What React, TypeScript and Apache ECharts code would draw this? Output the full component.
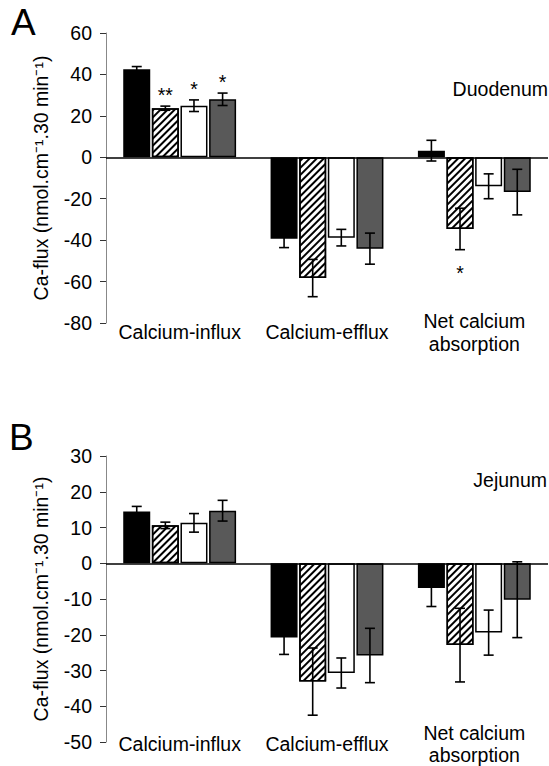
import React, { useEffect, useRef } from "react";
import * as echarts from "echarts";

// ---- data ----
const categories = ["Calcium-influx", "Calcium-efflux", "Net calcium\nabsorption"];

// Panel A: Duodenum
const duoBlack = [42.5, -39.3, 3.2];
const duoBlackErr = [1.3, 4.3, 5.0];
const duoHatched = [23.7, -58.3, -34.6];
const duoHatchedErr = [1.0, 9.0, 10.0];
const duoWhite = [24.9, -38.8, -14.0];
const duoWhiteErr = [2.8, 4.0, 6.0];
const duoGray = [28.0, -44.1, -16.8];
const duoGrayErr = [3.0, 7.5, 11.0];
const duoBlackSig = ["", "", ""];
const duoHatchedSig = ["**", "", "*"];
const duoWhiteSig = ["*", "", ""];
const duoGraySig = ["*", "", ""];

// Panel B: Jejunum
const jejBlack = [14.5, -20.8, -6.9];
const jejBlackErr = [1.4, 4.7, 5.2];
const jejHatched = [10.6, -33.1, -22.9];
const jejHatchedErr = [0.9, 9.4, 10.3];
const jejWhite = [11.3, -30.7, -19.4];
const jejWhiteErr = [2.6, 4.2, 6.3];
const jejGray = [14.7, -25.8, -10.2];
const jejGrayErr = [2.9, 7.6, 10.6];
const noSig = ["", "", ""];

// axis ticks
const duoTicks = { min: -80, max: 60, interval: 20 };
const jejTicks = { min: -50, max: 30, interval: 10 };

const yName = "Ca-flux (nmol.cm\u207B\u00B9.30 min\u207B\u00B9)";
const FONT = "'Liberation Sans', Arial, Helvetica, sans-serif";
const FS = 19.5;
const BAR_W = 27;
const GAP_PCT = 0.06;

const hatchDecal = {
  symbol: "rect",
  symbolSize: 1,
  dashArrayX: [[1, 0]],
  dashArrayY: [2, 3],
  rotation: -Math.PI / 4,
  color: "#000",
};

const styles = [
  { color: "#000", borderColor: "#000", borderWidth: 1.5 },
  { color: "#fff", borderColor: "#000", borderWidth: 1.5, decal: hatchDecal },
  { color: "#fff", borderColor: "#000", borderWidth: 1.5 },
  { color: "#595959", borderColor: "#000", borderWidth: 1.5 },
];

function buildPanel(
  gi: number,
  vals: number[][],
  errs: number[][],
  sigs: string[][]
) {
  const out: any[] = [];
  vals.forEach((v, i) => {
    const s: any = {
      type: "bar",
      xAxisIndex: gi,
      yAxisIndex: gi,
      data: v,
      barWidth: BAR_W,
      barGap: GAP_PCT * 100 + "%",
      itemStyle: styles[i],
      silent: true,
      z: 2,
    };
    if (i === 0) {
      s.markLine = {
        silent: true,
        symbol: ["none", "none"],
        label: { show: false },
        lineStyle: { color: "#000", width: 1.5, type: "solid" },
        data: [{ yAxis: 0 }],
        z: 5,
      };
    }
    out.push(s);
  });
  const data: any[] = [];
  const sigList: string[] = [];
  vals.forEach((v, i) => {
    v.forEach((val, j) => {
      data.push([j, val, errs[i][j], i]);
      sigList.push(sigs[i][j]);
    });
  });
  out.push({
    type: "custom",
    xAxisIndex: gi,
    yAxisIndex: gi,
    silent: true,
    z: 10,
    data,
    encode: { x: 0, y: 1 },
    renderItem: (params: any, api: any) => {
      const cat = api.value(0);
      const v = api.value(1);
      const e = api.value(2);
      const bi = api.value(3);
      const base = api.coord([cat, 0]);
      const x = base[0] + (bi - 1.5) * (BAR_W + BAR_W * GAP_PCT);
      const yTop = api.coord([cat, v + e])[1];
      const yBot = api.coord([cat, v - e])[1];
      const ls = { stroke: "#000", lineWidth: 1.6 };
      const cw = 5;
      const children: any[] = [
        { type: "line", shape: { x1: x, y1: yTop, x2: x, y2: yBot }, style: ls },
        { type: "line", shape: { x1: x - cw, y1: yTop, x2: x + cw, y2: yTop }, style: ls },
        { type: "line", shape: { x1: x - cw, y1: yBot, x2: x + cw, y2: yBot }, style: ls },
      ];
      const sig = sigList[params.dataIndex];
      if (sig) {
        children.push({
          type: "text",
          style: {
            text: sig,
            x,
            y: v >= 0 ? yTop - 1 : yBot + 13,
            align: "center",
            verticalAlign: v >= 0 ? "bottom" : "top",
            fontSize: FS,
            fontFamily: FONT,
            fill: "#000",
          },
        });
      }
      return { type: "group", children };
    },
  });
  return out;
}

export default function App() {
  const ref = useRef<HTMLDivElement>(null);
  useEffect(() => {
    if (!ref.current) return;
    const chart = echarts.init(ref.current, undefined, { renderer: "svg" });
    const yAxisCommon = (t: any, gi: number) => ({
      type: "value",
      gridIndex: gi,
      min: t.min,
      max: t.max,
      interval: t.interval,
      name: yName,
      nameLocation: "middle",
      nameRotate: 90,
      nameGap: 55,
      nameTextStyle: { fontSize: FS, fontFamily: FONT, color: "#000" },
      axisLine: { show: true, lineStyle: { color: "#888", width: 1 } },
      axisTick: { show: true, length: 6, lineStyle: { color: "#333", width: 1 } },
      axisLabel: { fontSize: FS, fontFamily: FONT, color: "#000", margin: 14 },
      splitLine: { show: false },
    });
    const xAxisCommon = (gi: number, margin: number, lh: number) => ({
      type: "category",
      gridIndex: gi,
      data: categories,
      axisLine: { show: false, onZero: false },
      axisTick: { show: false },
      axisLabel: {
        fontSize: FS,
        fontFamily: FONT,
        color: "#000",
        margin,
        verticalAlign: "middle",
        lineHeight: lh,
        interval: 0,
      },
    });
    chart.setOption({
      animation: false,
      backgroundColor: "#fff",
      textStyle: { fontFamily: FONT },
      grid: [
        { left: 106, top: 33, width: 442, height: 290 },
        { left: 106, top: 456, width: 442, height: 288 },
      ],
      xAxis: [xAxisCommon(0, 9, 23), xAxisCommon(1, 2, 22)],
      yAxis: [yAxisCommon(duoTicks, 0), yAxisCommon(jejTicks, 1)],
      graphic: [
        {
          type: "text",
          left: 11,
          top: 4,
          style: { text: "A", fontSize: 37, fontFamily: FONT, fill: "#000" },
        },
        {
          type: "text",
          left: 9,
          top: 419,
          style: { text: "B", fontSize: 37, fontFamily: FONT, fill: "#000" },
        },
        {
          type: "text",
          right: 1,
          top: 79,
          style: { text: "Duodenum", fontSize: FS, fontFamily: FONT, fill: "#000" },
        },
        {
          type: "text",
          right: 2,
          top: 470,
          style: { text: "Jejunum", fontSize: FS, fontFamily: FONT, fill: "#000" },
        },
      ],
      series: [
        ...buildPanel(
          0,
          [duoBlack, duoHatched, duoWhite, duoGray],
          [duoBlackErr, duoHatchedErr, duoWhiteErr, duoGrayErr],
          [duoBlackSig, duoHatchedSig, duoWhiteSig, duoGraySig]
        ),
        ...buildPanel(
          1,
          [jejBlack, jejHatched, jejWhite, jejGray],
          [jejBlackErr, jejHatchedErr, jejWhiteErr, jejGrayErr],
          [noSig, noSig, noSig, noSig]
        ),
      ],
    });
    return () => chart.dispose();
  }, []);
  return (
    <div
      ref={ref}
      style={{ position: "absolute", left: 0, top: 0, width: 549, height: 766 }}
    />
  );
}
